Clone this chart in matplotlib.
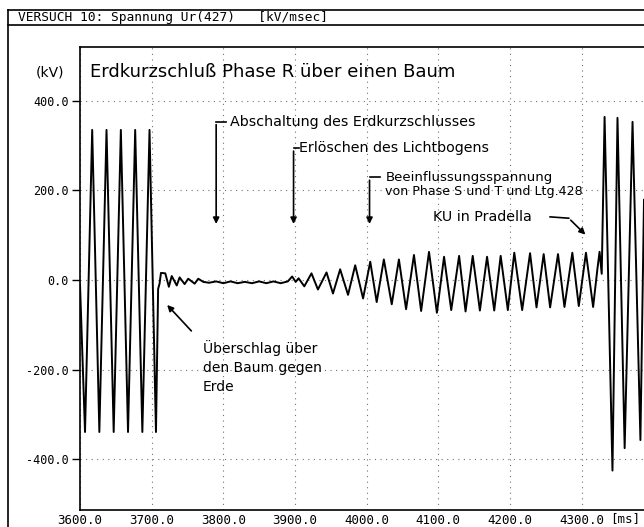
import matplotlib
matplotlib.use("Agg")
import matplotlib.pyplot as plt
from matplotlib.lines import Line2D

# ================= DATA =================
# trace vertices (time in ms, voltage in kV)
t_ms = [3600, 3607, 3617, 3627, 3637, 3647, 3657, 3667, 3677, 3687, 3697, 3706,
        3709, 3711, 3713, 3719, 3724, 3728, 3735, 3739, 3746, 3751, 3760, 3765,
        3772, 3780, 3790, 3800, 3810, 3820, 3830, 3840, 3850, 3860, 3870, 3880,
        3890, 3896, 3901, 3905, 3913, 3923, 3932, 3944, 3953, 3963, 3974, 3984,
        3995, 4005, 4014, 4024, 4035, 4045, 4055, 4066, 4076, 4087, 4098, 4108,
        4118, 4129, 4138, 4148, 4158, 4168, 4178, 4187, 4197, 4206, 4217, 4228,
        4237, 4247, 4256, 4267, 4276, 4287, 4296, 4306, 4316, 4322, 4325, 4328,
        4332, 4343, 4350, 4360, 4371, 4382, 4387]
u_kv = [-10, -339, 335, -339, 335, -339, 335, -339, 335, -339, 335, -339,
        -20, -8, 16, 15, -15, 9, -12, 6, -9, 3, -8, 3,
        -4, -6, -3, -7, -3, -7, -4, -7, -3, -7, -3, -7,
        -3, 8, -4, 4, -14, 15, -21, 17, -30, 24, -33, 33,
        -41, 41, -49, 46, -54, 46, -65, 56, -69, 63, -73, 52,
        -67, 54, -70, 54, -68, 52, -68, 54, -67, 61, -67, 60,
        -61, 58, -61, 58, -60, 61, -58, 61, -60, 25, 63, 14,
        364, -425, 362, -375, 353, -357, 179]

x_ticks = [3600, 3700, 3800, 3900, 4000, 4100, 4200, 4300]
y_ticks = [-400, -200, 0, 200, 400]

W, H = 644, 527


def fx(px):
    return px / W


def fy(py):
    return 1 - py / H


fig = plt.figure(figsize=(W / 100, H / 100), dpi=100)
fig.patch.set_facecolor("white")

ax = fig.add_axes([fx(80), fy(510), 1 - fx(80), fy(47) - fy(510)])
ax.plot(t_ms, u_kv, color="black", lw=1.4)

ax.set_xlim(3600, 4387)
ax.set_ylim(-513, 520)
ax.set_xticks(x_ticks)
ax.set_yticks(y_ticks)
ax.set_xticklabels([f"{v:.1f}" for v in x_ticks], family="DejaVu Sans Mono", fontsize=9)
ax.set_yticklabels([f"{v:.1f}" for v in y_ticks], family="DejaVu Sans Mono", fontsize=8.5)
ax.tick_params(axis="x", length=0, pad=3)
ax.tick_params(axis="y", length=6, width=1, direction="out", pad=2)
ax.grid(True, color="0.45", lw=0.8, linestyle=(0, (1, 4)))
ax.spines["right"].set_visible(False)
for s in ["left", "top", "bottom"]:
    ax.spines[s].set_linewidth(1.2)

# ---------- frame + header ----------
lines = [
    ([fx(8), fx(8)], [fy(10), fy(527)]),
    ([fx(8), 1], [fy(10), fy(10)]),
    ([fx(8), 1], [fy(25), fy(25)]),
]
for xs, ys in lines:
    fig.add_artist(Line2D(xs, ys, color="black", lw=1.2))

fig.text(fx(18), fy(18), "VERSUCH 10: Spannung Ur(427)   [kV/msec]",
         family="DejaVu Sans Mono", fontsize=9.3, va="center")
fig.text(fx(50), fy(72), "(kV)", fontsize=10, ha="center", va="center")
fig.text(fx(90), fy(72), "Erdkurzschluß Phase R über einen Baum", fontsize=13, va="center")
fig.text(fx(610), fy(519), "[ms]", family="DejaVu Sans Mono", fontsize=9, va="center")

# ---------- annotations ----------
arrow = dict(arrowstyle="-|>", color="black", lw=1.2, mutation_scale=9)


def marker(x, y_top, hook=14):
    ax.annotate("", xy=(x, 119), xytext=(x, y_top), arrowprops=arrow)
    ax.plot([x, x + hook], [y_top, y_top], color="black", lw=1.2)


marker(3790, 353)
ax.text(3810, 353, "Abschaltung des Erdkurzschlusses", fontsize=10.3, va="center")
marker(3898, 294, hook=8)
ax.text(3906, 294, "Erlöschen des Lichtbogens", fontsize=10.3, va="center")
marker(4004, 229)
ax.text(4026, 229, "Beeinflussungsspannung", fontsize=9.6, va="center")
ax.text(4026, 197, "von Phase S und T und Ltg.428", fontsize=9.1, va="center")

ax.text(4093, 141, "KU in Pradella", fontsize=10.3, va="center")
ax.plot([4256, 4282], [141, 138], color="black", lw=1.2)
ax.annotate("", xy=(4308, 97), xytext=(4282, 138), arrowprops=arrow)

ax.annotate("", xy=(3719, -51), xytext=(3758, -118), arrowprops=arrow)
ax.text(3771, -152, "Überschlag über", fontsize=10, va="center")
ax.text(3771, -196, "den Baum gegen", fontsize=10, va="center")
ax.text(3771, -239, "Erde", fontsize=10, va="center")

fig.savefig("out.png", dpi=100)
